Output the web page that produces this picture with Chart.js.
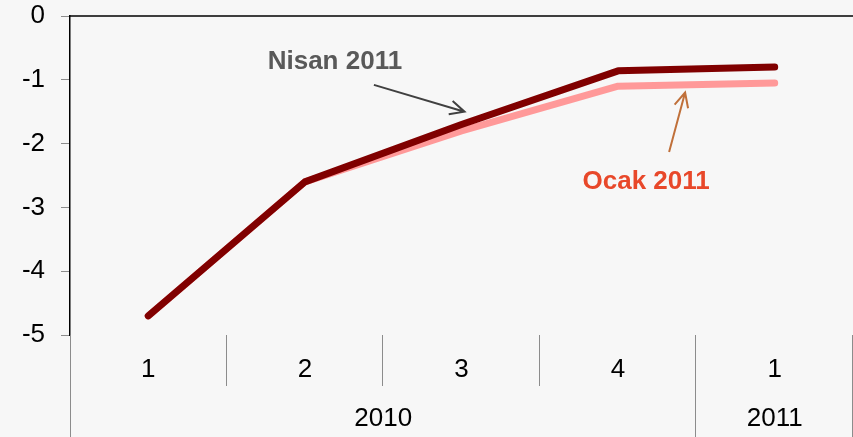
<!DOCTYPE html>
<html>
<head>
<meta charset="utf-8">
<script src="https://cdn.jsdelivr.net/npm/chart.js@4.4.1/dist/chart.umd.min.js"></script>
<style>
  html, body { margin: 0; padding: 0; background: #f7f7f7; }
  #wrap { width: 853px; height: 437px; }
</style>
</head>
<body>
<div id="wrap"><canvas id="chart"></canvas></div>
<script>
const quarters = ['1', '2', '3', '4', '1'];
const years = ['2010', '2011'];
const yearSpans = [4, 1];
const nisan2011 = [-4.7, -2.6, -1.7, -0.86, -0.8];
const ocak2011 = [-4.7, -2.6, -1.8, -1.1, -1.05];

const FONT = '"Liberation Sans", Arial, sans-serif';

// top axis line, category separators, year row and arrow notes
const decor = {
  id: 'decor',
  afterDraw(chart) {
    const ctx = chart.ctx;
    const x = chart.scales.x;
    const y = chart.scales.y;
    const area = chart.chartArea;
    const step = (area.right - area.left) / quarters.length;
    const y0 = y.getPixelForValue(0);
    const yB = area.bottom;
    const h = chart.height;

    ctx.save();
    ctx.strokeStyle = '#000';
    ctx.lineWidth = 1.5;
    ctx.beginPath();
    ctx.moveTo(area.left, y0);
    ctx.lineTo(area.right, y0);
    ctx.stroke();

    // separators between quarters
    ctx.strokeStyle = '#8c8c8c';
    ctx.lineWidth = 1;
    let idx = 0;
    const yearEnds = [];
    for (let i = 0; i < yearSpans.length; i++) {
      idx += yearSpans[i];
      yearEnds.push(idx);
    }
    for (let i = 1; i <= quarters.length; i++) {
      const sx = Math.round(area.left + step * i) - 0.5;
      const full = yearEnds.indexOf(i) >= 0;
      ctx.beginPath();
      ctx.moveTo(sx, yB);
      ctx.lineTo(sx, full ? h : yB + 51);
      ctx.stroke();
    }
    ctx.beginPath();
    ctx.moveTo(area.left + 0.5, yB);
    ctx.lineTo(area.left + 0.5, h);
    ctx.stroke();

    // year labels
    ctx.fillStyle = '#000';
    ctx.font = '26px ' + FONT;
    ctx.textAlign = 'center';
    ctx.textBaseline = 'middle';
    let start = 0;
    for (let i = 0; i < years.length; i++) {
      const end = start + yearSpans[i];
      const cx = area.left + step * (start + end) / 2;
      ctx.fillText(years[i], cx, yB + 84);
      start = end;
    }

    // notes
    ctx.font = 'bold 26px ' + FONT;
    ctx.fillStyle = '#595959';
    ctx.fillText('Nisan 2011', x.getPixelForValue(1) + 30, y.getPixelForValue(-0.72));
    ctx.fillStyle = '#e8482a';
    ctx.fillText('Ocak 2011', x.getPixelForValue(3) + 28, y.getPixelForValue(-2.6));

    arrow(ctx, x.getPixelForValue(1) + 69, y.getPixelForValue(-1.08),
      x.getPixelForValue(2) + 3, y.getPixelForValue(-1.5), '#404040');
    arrow(ctx, x.getPixelForValue(3) + 51, y.getPixelForValue(-2.13),
      x.getPixelForValue(3) + 67, y.getPixelForValue(-1.2), '#c0703a');
    ctx.restore();
  }
};

function arrow(ctx, x1, y1, x2, y2, color) {
  const a = Math.atan2(y2 - y1, x2 - x1);
  const len = 16;
  ctx.strokeStyle = color;
  ctx.lineWidth = 2;
  ctx.beginPath();
  ctx.moveTo(x1, y1);
  ctx.lineTo(x2, y2);
  ctx.moveTo(x2 - len * Math.cos(a - 0.45), y2 - len * Math.sin(a - 0.45));
  ctx.lineTo(x2, y2);
  ctx.lineTo(x2 - len * Math.cos(a + 0.45), y2 - len * Math.sin(a + 0.45));
  ctx.stroke();
}

new Chart(document.getElementById('chart'), {
  type: 'line',
  data: {
    labels: quarters,
    datasets: [{
      label: 'Nisan 2011',
      data: nisan2011,
      borderColor: '#800000',
      borderWidth: 7,
      borderCapStyle: 'round',
      borderJoinStyle: 'round',
      pointRadius: 0,
      tension: 0
    }, {
      label: 'Ocak 2011',
      data: ocak2011,
      borderColor: '#ff9999',
      borderWidth: 7,
      borderCapStyle: 'round',
      borderJoinStyle: 'round',
      pointRadius: 0,
      tension: 0
    }]
  },
  options: {
    responsive: true,
    maintainAspectRatio: false,
    animation: false,
    layout: {
      padding: { top: 0, right: 0, left: 0, bottom: 0 }
    },
    plugins: {
      legend: { display: false },
      tooltip: { enabled: false }
    },
    scales: {
      x: {
        offset: true,
        grid: { display: false, drawTicks: false },
        border: { display: false },
        ticks: {
          color: '#000',
          font: { family: FONT, size: 26 },
          padding: 19,
          maxRotation: 0
        },
        afterFit(scale) { scale.height = 102; }
      },
      y: {
        min: -5,
        max: 0,
        ticks: {
          stepSize: 1,
          color: '#000',
          font: { family: FONT, size: 26 },
          padding: 16
        },
        grid: {
          drawOnChartArea: false,
          drawTicks: true,
          tickLength: 9,
          tickColor: '#8c8c8c'
        },
        border: { color: '#000', width: 1.5 },
        afterFit(scale) {
          scale.width = 70;
          scale.paddingTop = 16;
          scale.paddingBottom = 0;
        }
      }
    }
  },
  plugins: [decor]
});
</script>
</body>
</html>
